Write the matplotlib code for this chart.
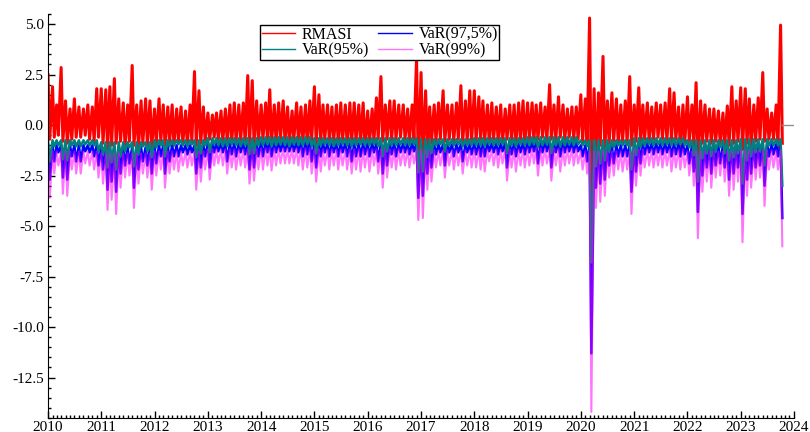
import numpy as np
import pandas as pd
import matplotlib
matplotlib.use("Agg")
import matplotlib.pyplot as plt
import matplotlib.dates as mdates
from matplotlib.ticker import MultipleLocator, FormatStrFormatter

plt.rcParams['font.family'] = ['Liberation Serif', 'DejaVu Serif']
plt.rcParams['axes.unicode_minus'] = False

# monthly extremes, Jan 2010 .. Oct 2023
months = pd.date_range('2010-01-01', '2023-10-01', freq='MS')

rmasi_hi = [
    2.5, 1.9, 1.0, 2.85, 1.2, 0.8, 1.3, 0.9, 0.8, 1.0, 0.9, 1.8,
    1.8, 1.75, 1.9, 2.3, 1.3, 1.1, 1.0, 2.95, 1.0, 1.2, 1.3, 1.2,
    0.8, 1.3, 1.0, 0.9, 1.0, 0.8, 0.9, 0.7, 1.0, 2.65, 1.7, 0.9,
    0.6, 0.5, 0.6, 0.7, 0.8, 1.0, 1.1, 1.0, 1.1, 2.45, 2.2, 1.2,
    1.0, 1.1, 1.75, 1.0, 1.1, 1.2, 0.9, 0.7, 1.1, 0.9, 1.0, 1.2,
    1.9, 1.5, 1.0, 1.0, 0.9, 1.0, 1.1, 1.0, 1.1, 1.1, 1.0, 1.1,
    0.7, 0.8, 1.35, 2.4, 1.0, 1.2, 1.2, 1.0, 1.0, 0.8, 1.0, 3.3,
    2.6, 1.7, 0.9, 1.0, 1.1, 1.7, 1.0, 1.0, 1.1, 1.95, 1.2, 1.7,
    1.7, 1.4, 1.2, 1.0, 1.1, 0.9, 1.0, 0.8, 1.0, 1.0, 1.1, 1.2,
    1.1, 1.1, 1.0, 1.1, 0.9, 2.0, 1.0, 1.4, 1.0, 0.8, 0.9, 0.9,
    1.5, 1.3, 5.3, 1.8, 1.6, 3.4, 1.2, 1.6, 1.3, 1.0, 1.2, 2.4,
    1.0, 1.85, 1.0, 1.1, 0.9, 1.1, 1.0, 1.1, 1.8, 1.6, 0.9, 1.0,
    1.4, 1.0, 2.1, 1.2, 1.0, 0.8, 0.8, 0.7, 0.6, 0.95, 1.9, 1.2,
    1.85, 1.8, 1.3, 1.0, 1.35, 2.6, 0.8, 0.6, 1.0, 4.95,
]
rmasi_lo = [
    -0.7, -0.6, -0.5, -0.8, -0.9, -0.7, -0.6, -0.6, -0.5, -0.7, -0.8, -0.6,
    -0.9, -1.2, -1.0, -0.9, -0.8, -1.1, -0.8, -1.0, -1.2, -0.9, -1.0, -1.1,
    -0.9, -0.8, -1.0, -0.9, -1.0, -0.8, -0.9, -1.0, -0.8, -1.0, -0.9, -0.8,
    -0.7, -0.6, -0.7, -0.8, -0.8, -0.9, -0.8, -0.8, -0.9, -1.0, -0.9, -0.8,
    -0.7, -0.8, -0.9, -0.8, -0.7, -0.8, -0.9, -0.7, -0.8, -0.9, -1.0, -0.8,
    -0.9, -0.8, -0.7, -0.8, -0.8, -0.9, -0.8, -1.0, -0.9, -0.8, -0.9, -1.0,
    -0.9, -0.8, -0.7, -0.8, -0.7, -0.8, -0.7, -0.6, -0.7, -0.8, -0.7, -2.1,
    -1.6, -1.2, -0.9, -0.8, -0.7, -0.8, -0.7, -0.8, -0.7, -0.9, -0.8, -0.9,
    -0.8, -0.7, -0.8, -0.9, -0.7, -0.8, -0.9, -0.7, -0.8, -0.9, -0.8, -0.9,
    -0.7, -0.8, -0.7, -0.6, -0.8, -0.7, -0.8, -0.6, -0.7, -0.6, -0.7, -0.7,
    -0.8, -1.0, -3.5, -2.0, -1.0, -1.2, -0.9, -0.8, -0.9, -0.8, -0.9, -1.0,
    -0.8, -0.9, -0.7, -0.8, -0.7, -0.6, -0.7, -0.8, -0.8, -0.7, -1.2, -0.9,
    -0.8, -1.0, -1.6, -0.9, -0.8, -0.9, -0.8, -0.9, -1.0, -1.0, -0.9, -0.8,
    -1.2, -0.9, -1.0, -0.8, -0.7, -0.8, -0.7, -0.7, -1.1, -0.9,
]

# calm (upper) level of each VaR band, per year 2010..2023
var95_top = [-0.75, -0.85, -0.75, -0.65, -0.6, -0.65, -0.65, -0.7, -0.65, -0.6, -0.75, -0.65, -0.75, -0.7]
var975_top = [-1.0, -1.1, -1.0, -0.9, -0.85, -0.9, -0.9, -0.95, -0.9, -0.85, -1.0, -0.9, -1.0, -0.95]
var99_top = [-1.3, -1.4, -1.3, -1.2, -1.15, -1.2, -1.2, -1.25, -1.2, -1.15, -1.3, -1.2, -1.3, -1.25]

# monthly lows of each VaR series
var95_lo = [
    -1.8, -1.05, -1.0, -1.7, -1.75, -1.0, -1.05, -1.05, -0.95, -1.0, -1.0, -1.3,
    -1.45, -2.1, -1.85, -2.2, -1.55, -1.3, -1.1, -2.05, -1.45, -1.05, -1.3, -1.6,
    -1.1, -1.0, -1.55, -1.05, -1.0, -0.95, -1.0, -1.05, -0.95, -1.6, -1.4, -1.0,
    -1.35, -0.95, -1.0, -1.05, -1.05, -0.95, -1.0, -1.05, -1.0, -1.45, -1.4, -1.0,
    -1.0, -0.95, -1.05, -1.0, -0.95, -1.0, -1.05, -0.95, -1.0, -1.0, -0.95, -1.05,
    -1.4, -1.0, -0.95, -1.0, -1.05, -1.0, -0.95, -1.0, -1.05, -1.0, -0.95, -1.0,
    -1.0, -0.95, -1.05, -1.55, -1.3, -1.0, -1.0, -0.95, -1.0, -1.0, -0.95, -2.35,
    -2.3, -1.6, -1.4, -1.0, -0.95, -1.3, -1.0, -1.0, -0.95, -1.05, -1.0, -1.0,
    -1.0, -1.0, -1.05, -0.95, -1.0, -1.0, -0.95, -1.4, -1.0, -1.05, -0.95, -1.0,
    -1.0, -0.95, -1.1, -1.0, -0.95, -1.4, -1.0, -1.05, -1.0, -0.95, -1.0, -0.95,
    -1.0, -1.05, -6.8, -2.05, -1.9, -1.75, -1.3, -1.1, -1.0, -1.0, -1.0, -2.2,
    -1.5, -1.1, -1.0, -0.95, -1.0, -0.95, -1.0, -0.95, -1.0, -1.0, -0.95, -1.0,
    -1.1, -1.5, -2.8, -1.65, -1.4, -1.55, -1.3, -1.1, -1.4, -1.75, -1.6, -1.4,
    -2.9, -1.75, -1.55, -1.35, -1.3, -2.0, -1.0, -1.0, -1.0, -3.0,
]
var975_lo = [
    -2.7, -1.8, -1.35, -2.6, -2.7, -1.55, -1.8, -1.8, -1.3, -1.35, -1.55, -2.0,
    -2.2, -3.2, -2.8, -3.3, -2.4, -2.0, -1.9, -3.1, -2.2, -1.8, -2.0, -2.4,
    -1.9, -1.55, -2.4, -1.8, -1.55, -1.55, -1.35, -1.45, -1.35, -2.4, -2.1, -1.55,
    -2.1, -1.35, -1.3, -1.35, -1.8, -1.45, -1.55, -1.35, -1.45, -2.2, -2.1, -1.55,
    -1.55, -1.35, -1.55, -1.35, -1.3, -1.3, -1.3, -1.3, -1.35, -1.55, -1.45, -1.8,
    -2.1, -1.55, -1.35, -1.55, -1.35, -1.55, -1.35, -1.55, -1.8, -1.55, -1.55, -1.45,
    -1.55, -1.35, -1.8, -2.4, -2.0, -1.45, -1.55, -1.35, -1.35, -1.45, -1.3, -3.6,
    -3.5, -2.4, -2.1, -1.45, -1.35, -2.0, -1.35, -1.55, -1.35, -1.8, -1.35, -1.45,
    -1.45, -1.55, -1.55, -1.3, -1.35, -1.45, -1.3, -2.1, -1.45, -1.55, -1.35, -1.45,
    -1.35, -1.3, -1.9, -1.35, -1.3, -2.1, -1.35, -1.55, -1.35, -1.3, -1.35, -1.3,
    -1.55, -1.8, -11.3, -3.1, -2.9, -2.7, -2.0, -1.9, -1.55, -1.55, -1.55, -3.3,
    -2.3, -1.9, -1.45, -1.35, -1.45, -1.35, -1.45, -1.35, -1.55, -1.45, -1.55, -1.45,
    -1.9, -2.3, -4.3, -2.5, -2.1, -2.4, -2.0, -1.9, -2.1, -2.7, -2.4, -2.1,
    -4.4, -2.7, -2.4, -2.1, -2.0, -3.0, -1.55, -1.45, -1.55, -4.6,
]
var99_lo = [
    -3.6, -2.4, -2.0, -3.4, -3.5, -2.2, -2.4, -2.4, -1.9, -2.0, -2.2, -2.6,
    -2.9, -4.2, -3.7, -4.4, -3.1, -2.6, -2.5, -4.1, -2.9, -2.4, -2.6, -3.2,
    -2.5, -2.2, -3.1, -2.4, -2.2, -2.3, -2.0, -2.1, -2.0, -3.2, -2.8, -2.2,
    -2.7, -2.0, -1.9, -2.0, -2.4, -2.1, -2.2, -2.0, -2.1, -2.9, -2.75, -2.2,
    -2.2, -2.0, -2.25, -2.0, -1.9, -1.9, -1.9, -1.9, -2.0, -2.2, -2.1, -2.4,
    -2.8, -2.3, -2.0, -2.2, -2.0, -2.2, -2.0, -2.2, -2.4, -2.2, -2.3, -2.1,
    -2.3, -2.0, -2.4, -3.1, -2.6, -2.1, -2.2, -2.0, -2.0, -2.1, -1.9, -4.7,
    -4.6, -3.2, -2.8, -2.1, -2.0, -2.6, -2.0, -2.2, -2.0, -2.4, -2.0, -2.1,
    -2.1, -2.2, -2.3, -1.8, -2.0, -2.1, -1.9, -2.75, -2.1, -2.3, -2.0, -2.1,
    -2.0, -1.9, -2.5, -2.0, -1.9, -2.75, -2.0, -2.3, -2.0, -1.9, -2.0, -1.9,
    -2.2, -2.4, -14.2, -4.1, -3.8, -3.5, -2.6, -2.5, -2.2, -2.3, -2.2, -4.4,
    -3.0, -2.5, -2.1, -2.0, -2.1, -2.0, -2.1, -2.0, -2.3, -2.1, -2.2, -2.1,
    -2.5, -3.0, -5.6, -3.3, -2.8, -3.1, -2.6, -2.5, -2.8, -3.5, -3.2, -2.8,
    -5.8, -3.5, -3.1, -2.7, -2.6, -4.0, -2.2, -2.1, -2.2, -6.0,
]

labels = ['RMASI', 'VaR(95%)', 'VaR(97,5%)', 'VaR(99%)']


def zigzag(hi, lo):
    # each month: its high at the month start, its low mid-month
    n = len(months)
    x = np.empty(2 * n, dtype='datetime64[ns]')
    y = np.empty(2 * n)
    x[0::2] = months.values
    x[1::2] = (months + pd.Timedelta(days=12)).values
    y[0::2] = hi
    y[1::2] = lo
    return x, y


n = len(months)
fig = plt.figure(figsize=(8.1, 4.32), dpi=100)
ax = fig.add_axes([48 / 810, 14 / 432, 746 / 810, 404 / 432])

x, y = zigzag(rmasi_hi, rmasi_lo)
l_r, = ax.plot(x, y, color='#ff0000', lw=2.2)
x, y = zigzag(np.repeat(var975_top, 12)[:n], var975_lo)
l_b, = ax.plot(x, y, color='#0000ff', lw=1.8)
x, y = zigzag(np.repeat(var95_top, 12)[:n], var95_lo)
l_t, = ax.plot(x, y, color='#008080', lw=1.8)
x, y = zigzag(np.repeat(var99_top, 12)[:n], var99_lo)
l_m, = ax.plot(x, y, color='#ff00ff', lw=1.5, alpha=0.55)

last = months[-1] + pd.Timedelta(days=12)
ax.plot([last, pd.Timestamp('2024-01-01')], [0, 0], color='#909090', lw=1)

ax.set_xlim(pd.Timestamp('2010-01-01'), pd.Timestamp('2024-01-01'))
ax.set_ylim(-14.5, 5.5)
ax.xaxis.set_major_locator(mdates.YearLocator())
ax.xaxis.set_minor_locator(mdates.MonthLocator())
ax.xaxis.set_major_formatter(mdates.DateFormatter('%Y'))
ax.yaxis.set_major_locator(MultipleLocator(2.5))
ax.yaxis.set_minor_locator(MultipleLocator(0.5))
ax.yaxis.set_major_formatter(FormatStrFormatter('%.1f'))

for s in ['top', 'right']:
    ax.spines[s].set_visible(False)
ax.tick_params(which='both', direction='in', labelsize=11, width=1)
ax.tick_params(which='major', length=5)
ax.tick_params(which='minor', length=2.5)
ax.tick_params(axis='x', pad=2)
ax.tick_params(axis='y', pad=3)

leg = fig.legend([l_r, l_t, l_b, l_m], labels, ncol=2, loc='upper left',
                 bbox_to_anchor=(260 / 810, 1 - 25 / 432), fontsize=11.5,
                 frameon=True, fancybox=False, framealpha=1, edgecolor='black',
                 borderpad=0.1, labelspacing=0.0, handlelength=2.1,
                 handletextpad=0.4, columnspacing=0.6, borderaxespad=0)
leg.get_frame().set_linewidth(1.0)
for h in leg.get_lines():
    h.set_linewidth(1.0)

fig.savefig('out.png', dpi=100)
